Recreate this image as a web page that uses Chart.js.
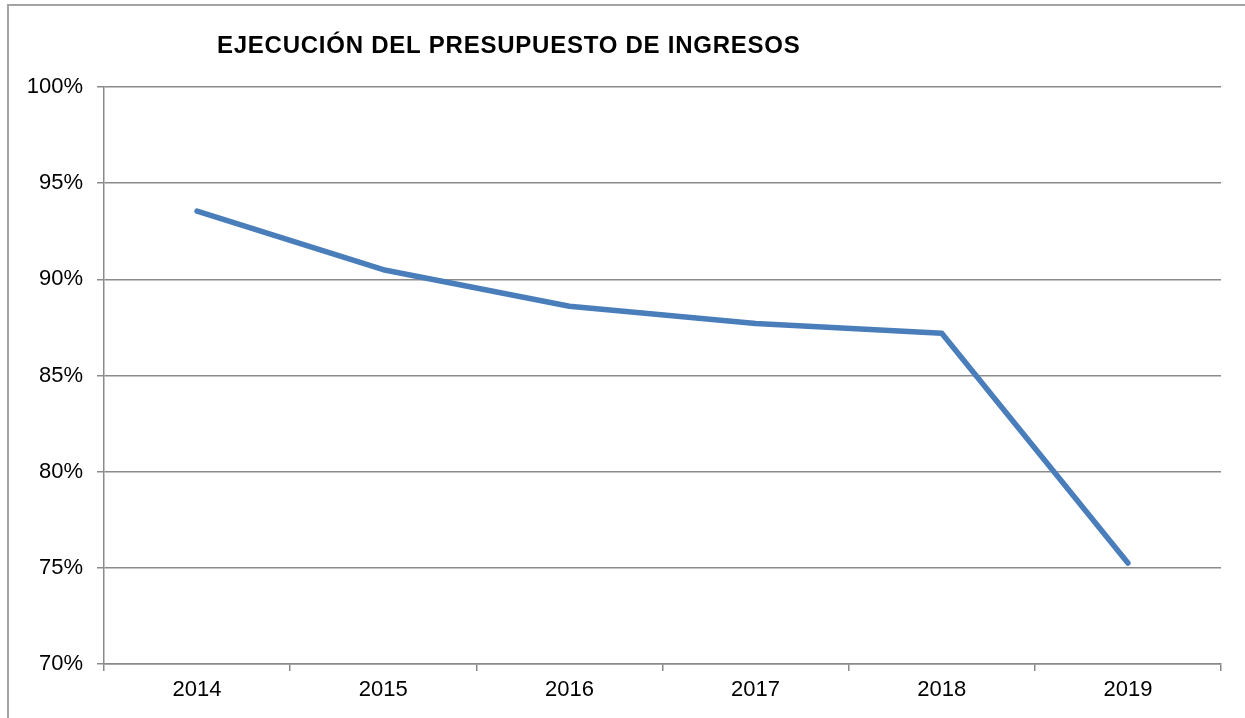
<!DOCTYPE html>
<html>
<head>
<meta charset="utf-8">
<script src="https://cdn.jsdelivr.net/npm/chart.js@4.4.1/dist/chart.umd.min.js"></script>
<style>
  html, body { margin: 0; padding: 0; background: #ffffff; }
  #wrap { position: relative; width: 1245px; height: 718px; overflow: hidden; }
  #frame { position: absolute; left: 7px; top: 4px; width: 1300px; height: 800px;
           border-left: 2px solid #a3a3a3; border-top: 2px solid #a3a3a3; box-sizing: border-box; }
  canvas { position: absolute; left: 0; top: 0; }
</style>
</head>
<body>
<div id="wrap">
  <div id="frame"></div>
  <canvas id="c" width="1245" height="718"></canvas>
</div>
<script>
const TITLE = 'EJECUCIÓN DEL PRESUPUESTO DE INGRESOS';
const years = ['2014', '2015', '2016', '2017', '2018', '2019'];
const ejecucion = [93.55, 90.5, 88.6, 87.7, 87.2, 75.25];
const yMin = 70;
const yMax = 100;
const yStep = 5;

const titlePlugin = {
  id: 'customTitle',
  afterDraw(chart) {
    const ctx = chart.ctx;
    ctx.save();
    ctx.font = 'bold 24px "Liberation Sans", Arial, sans-serif';
    ctx.fillStyle = '#000000';
    ctx.textAlign = 'left';
    ctx.textBaseline = 'middle';
    try { ctx.letterSpacing = '0.75px'; } catch (e) {}
    ctx.fillText(TITLE, 217, 46);
    ctx.restore();
  }
};

new Chart(document.getElementById('c'), {
  type: 'line',
  data: {
    labels: years,
    datasets: [{
      data: ejecucion,
      borderColor: '#4a7ebb',
      backgroundColor: '#4a7ebb',
      borderWidth: 5.5,
      borderCapStyle: 'round',
      borderJoinStyle: 'round',
      pointRadius: 0,
      tension: 0,
      fill: false
    }]
  },
  options: {
    responsive: false,
    animation: false,
    devicePixelRatio: 1,
    layout: { padding: { left: 0, right: 24, top: 87, bottom: 0 } },
    plugins: {
      legend: { display: false },
      title: { display: false },
      tooltip: { enabled: false }
    },
    scales: {
      x: {
        type: 'category',
        offset: true,
        grid: {
          offset: true,
          drawOnChartArea: false,
          drawTicks: true,
          tickLength: 7,
          color: '#8a8a8a',
          lineWidth: 1.5
        },
        border: { display: true, color: '#8a8a8a', width: 1.5 },
        ticks: {
          color: '#000000',
          font: { family: '"Liberation Sans", Arial, sans-serif', size: 22 },
          padding: 6,
          maxRotation: 0,
          autoSkip: false
        },
        afterFit(scale) { scale.height = 54; }
      },
      y: {
        min: yMin,
        max: yMax,
        grid: {
          color: '#8a8a8a',
          lineWidth: 1.5,
          drawTicks: true,
          tickLength: 7
        },
        border: { display: true, color: '#8a8a8a', width: 1.5 },
        ticks: {
          stepSize: yStep,
          color: '#000000',
          font: { family: '"Liberation Sans", Arial, sans-serif', size: 22 },
          padding: 14,
          callback: (v) => v + '%'
        },
        afterFit(scale) { scale.width = 104; }
      }
    }
  },
  plugins: [titlePlugin]
});
</script>
</body>
</html>
